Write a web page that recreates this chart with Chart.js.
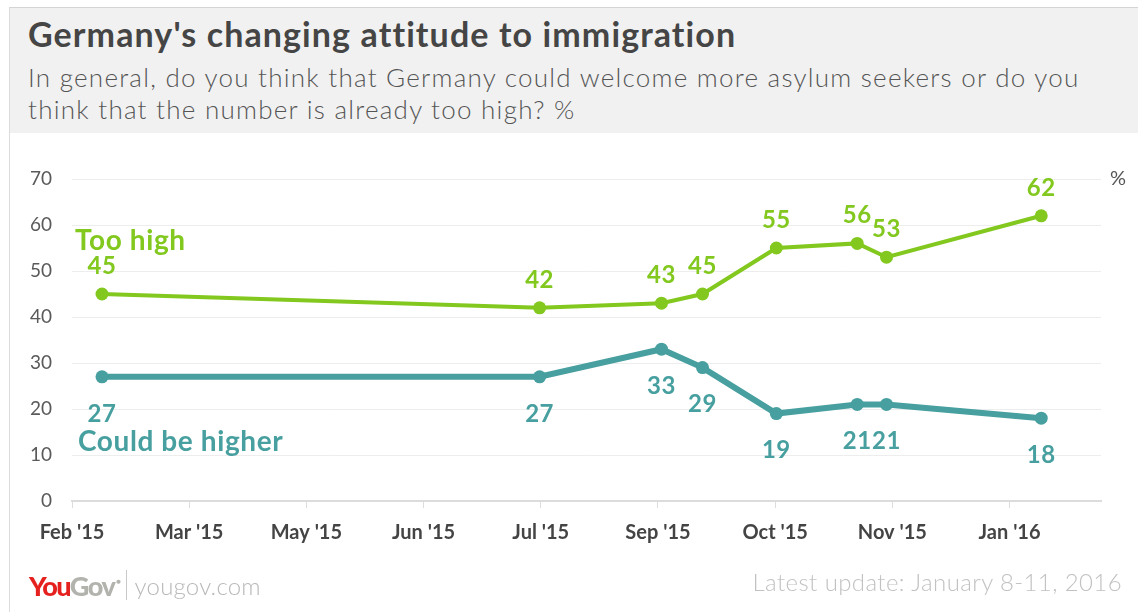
<!DOCTYPE html>
<html>
<head>
<meta charset="utf-8">
<script src="https://cdn.jsdelivr.net/npm/chart.js@4/dist/chart.umd.min.js"></script>
<style>
  html, body { margin: 0; padding: 0; background: #fff; }
  body { width: 1138px; height: 612px; position: relative; overflow: hidden; font-family: Lato, "Open Sans", sans-serif; }
  #header { position: absolute; left: 9px; top: 7px; width: 1129px; height: 126px; background: #f1f1f1; border-top: 1px solid #d4d4d4; border-left: 1px solid #dcdcdc; box-sizing: border-box; }
  #title { position: absolute; left: 18px; top: 5px; font-size: 34px; font-weight: 700; letter-spacing: 1.1px; color: #454545; white-space: nowrap; }
  #subtitle { position: absolute; left: 18px; top: 53px; font-size: 26px; font-weight: 300; letter-spacing: 1.25px; color: #555; line-height: 32px; white-space: nowrap; }
  #leftRule { position: absolute; left: 9px; top: 133px; width: 1px; height: 479px; background: #dcdcdc; }
  #chartBox { position: absolute; left: 0; top: 0; width: 1138px; height: 612px; }
  #footer { position: absolute; left: 29px; top: 569px; height: 32px; display: flex; align-items: center; white-space: nowrap; }
  #logo { font-size: 27px; font-weight: 900; letter-spacing: -1.5px; }
  #logo .you { color: #e5211f; }
  #logo .gov { color: #b3b3ae; }
  #logo sup { font-size: 8px; color: #b3b3ae; vertical-align: 12px; margin-left: 2px; }
  #divider { width: 1px; height: 30px; background: #c8c8c8; margin: 0 8px 0 6px; }
  #site { font-size: 24px; font-weight: 300; letter-spacing: 0.2px; color: #b8b8b8; }
  #updated { position: absolute; right: 16px; top: 567px; font-size: 24px; font-weight: 300; letter-spacing: 0.4px; color: #c2c2c2; white-space: nowrap; }
</style>
</head>
<body>
<div id="header">
  <div id="title">Germany's changing attitude to immigration</div>
  <div id="subtitle">In general, do you think that Germany could welcome more asylum seekers or do you<br>think that the number is already too high? %</div>
</div>
<div id="leftRule"></div>
<div id="chartBox"><canvas id="trendChart" width="1138" height="612"></canvas></div>
<div id="footer">
  <span id="logo"><span class="you">You</span><span class="gov">Gov</span><sup>&#9679;</sup></span>
  <span id="divider"></span>
  <span id="site">yougov.com</span>
</div>
<div id="updated">Latest update: January 8-11, 2016</div>

<script>
// Month ticks along the bottom (evenly spaced on the axis)
const monthLabels = ["Feb '15", "Mar '15", "May '15", "Jun '15", "Jul '15", "Sep '15", "Oct '15", "Nov '15", "Jan '16"];

// Fieldwork position of each survey, in tick units
const surveyPos = [0.256, 3.99, 5.03, 5.38, 6.01, 6.70, 6.95, 8.27];

const tooHigh = [45, 42, 43, 45, 55, 56, 53, 62];
const couldBeHigher = [27, 27, 33, 29, 19, 21, 21, 18];

const yTicks = [0, 10, 20, 30, 40, 50, 60, 70];

const GREEN = '#82c81e';
const TEAL = '#479f9f';

const toPoints = vals => vals.map((v, i) => ({ x: surveyPos[i], y: v }));

// value labels above / below each point, plus the series names
const labelPlugin = {
  id: 'pointLabels',
  afterDatasetsDraw(chart) {
    const ctx = chart.ctx;
    ctx.save();
    ctx.textAlign = 'center';
    ctx.textBaseline = 'middle';
    ctx.font = 'bold 24px Lato, sans-serif';
    ctx.letterSpacing = '0.5px';
    chart.data.datasets.forEach((ds, di) => {
      const meta = chart.getDatasetMeta(di);
      ctx.fillStyle = ds.borderColor;
      meta.data.forEach((pt, i) => {
        const dy = ds.labelAbove ? -28 : 37;
        ctx.fillText(ds.data[i].y, pt.x, pt.y + dy);
      });
    });

    const xs = chart.scales.x, ys = chart.scales.y;
    ctx.textAlign = 'left';
    ctx.font = 'bold 28px Lato, sans-serif';
    ctx.letterSpacing = '0.6px';
    ctx.fillStyle = GREEN;
    ctx.fillText('Too high', xs.left + 3, ys.getPixelForValue(56.6));
    ctx.fillStyle = TEAL;
    ctx.fillText('Could be higher', xs.left + 6, ys.getPixelForValue(12.9));

    // unit marker top right
    ctx.font = '20px Lato, sans-serif';
    ctx.letterSpacing = '0px';
    ctx.fillStyle = '#555';
    ctx.fillText('%', xs.right + 9, ys.getPixelForValue(70));
    ctx.restore();
  }
};

chart = new Chart(document.getElementById('trendChart'), {
  type: 'line',
  data: {
    datasets: [
      {
        label: 'Too high',
        data: toPoints(tooHigh),
        borderColor: GREEN,
        backgroundColor: GREEN,
        borderWidth: 4,
        pointRadius: 6.5,
        pointBorderWidth: 0,
        labelAbove: true
      },
      {
        label: 'Could be higher',
        data: toPoints(couldBeHigher),
        borderColor: TEAL,
        backgroundColor: TEAL,
        borderWidth: 6,
        pointRadius: 6.5,
        pointBorderWidth: 0,
        labelAbove: false
      }
    ]
  },
  options: {
    responsive: false,
    animation: false,
    events: [],
    layout: { padding: { left: 0, top: 179, right: 37, bottom: 61 } },
    plugins: { legend: { display: false }, tooltip: { enabled: false } },
    scales: {
      x: {
        type: 'linear',
        min: 0,
        max: 8.78,
        afterBuildTicks: scale => { scale.ticks = monthLabels.map((_, i) => ({ value: i })); },
        afterFit: scale => { scale.height = 50; },
        border: { display: true, color: '#dcdcdc', width: 2 },
        grid: { drawOnChartArea: false, drawTicks: true, tickLength: 7, color: '#dcdcdc', lineWidth: 1 },
        ticks: {
          autoSkip: false,
          maxRotation: 0,
          padding: 13,
          color: '#444',
          font: { family: 'Lato, sans-serif', size: 20, weight: 'bold' },
          callback: (v, i) => monthLabels[i]
        }
      },
      y: {
        min: 0,
        max: 70,
        afterBuildTicks: scale => { scale.ticks = yTicks.map(v => ({ value: v })); },
        afterFit: scale => { scale.width = 72; },
        border: { display: false },
        grid: { color: '#ededed', lineWidth: 1, drawTicks: false },
        ticks: {
          padding: 20,
          color: '#5a5a5a',
          font: { family: 'Lato, sans-serif', size: 19 }
        }
      }
    }
  },
  plugins: [labelPlugin]
});
</script>
</body>
</html>
